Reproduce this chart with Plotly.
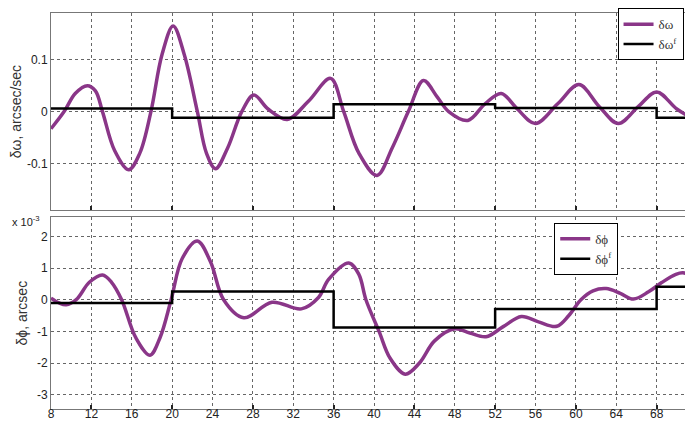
import plotly.graph_objects as go

# top panel: angular rate error, arcsec/sec
omega_t = [8, 9.3, 10.4, 11.6, 12.4, 13.1, 14.3, 15.7, 16.8, 17.9, 19, 20.1, 21.2, 22.5,
           23.4, 24.3, 25.5, 26.9, 28.1, 29.5, 31.4, 33.5, 35.7, 37, 38.5, 40.3, 41.8,
           43.4, 44.9, 46.2, 47.4, 49.3, 51, 52.6, 54.2, 56, 58.2, 60.3, 62.3, 64.2,
           66.2, 68, 70, 72]
omega = [-0.033, 0, 0.035, 0.05, 0.04, 0, -0.075, -0.112, -0.08, 0, 0.11, 0.165, 0.11, 0,
         -0.08, -0.11, -0.07, 0, 0.032, 0.005, -0.015, 0.02, 0.064, 0, -0.08, -0.123, -0.07,
         0, 0.06, 0.03, 0, -0.017, 0.015, 0.035, 0.005, -0.023, 0.015, 0.052, 0.01, -0.023,
         0.01, 0.038, 0.005, -0.018]

# piecewise-constant estimates (step starts, last point closes the step)
step_t = [8, 20, 36, 52, 68, 72]
omega_f = [0.006, -0.012, 0.014, 0.007, -0.012, -0.012]

# bottom panel: angle error, x 1e-3 arcsec
phi_t = [8, 8.8, 9.5, 10.5, 11.8, 13.1, 14, 15, 16.4, 17.8, 18.8, 19.9, 21, 22.5, 23.8,
         25.1, 27.1, 29.9, 32.8, 34.5, 35.5, 37.5, 38.5, 39.2, 40.5, 41.6, 43.1, 44.5,
         46, 48, 49.5, 51.1, 52.8, 54.6, 56.3, 58.1, 59.3, 60.5, 61.7, 63, 64.4, 65.7,
         67.2, 68.5, 69.9, 70.6, 72]
phi = [0.05, -0.1, -0.16, 0, 0.55, 0.78, 0.55, 0, -1.2, -1.75, -1.2, 0, 1.3, 1.85, 1.2,
       0, -0.57, -0.08, -0.29, 0.07, 0.64, 1.16, 0.8, 0, -1.0, -1.85, -2.35, -2.0,
       -1.3, -0.92, -1.05, -1.17, -0.85, -0.53, -0.7, -0.84, -0.5, 0, 0.28, 0.35, 0.2, 0.02,
       0.25, 0.54, 0.8, 0.85, 0.7]
phi_f = [-0.1, 0.26, -0.88, -0.29, 0.41, 0.41]

x_ticks = list(range(8, 72, 4))
top_ticks = [-0.1, 0, 0.1]
top_labels = ["-0.1", "0", "0.1"]
bot_ticks = [-3, -2, -1, 0, 1, 2]
bot_labels = ["-3", "-2", "-1", "0", "1", "2"]

PURPLE = "#8a3688"
TICK_FONT = dict(family="Liberation Sans, Arial", size=12, color="#222")
TITLE_FONT = dict(family="Liberation Sans, Arial", size=14, color="#333")

fig = go.Figure()

fig.add_trace(go.Scatter(x=omega_t, y=omega, mode="lines", name="δω",
                         line=dict(color=PURPLE, width=3.5, shape="spline"),
                         xaxis="x", yaxis="y", legend="legend"))
fig.add_trace(go.Scatter(x=step_t, y=omega_f, mode="lines", name="δω<sup>f</sup>",
                         line=dict(color="black", width=2.5, shape="hv"),
                         xaxis="x", yaxis="y", legend="legend"))
fig.add_trace(go.Scatter(x=phi_t, y=phi, mode="lines", name="δϕ",
                         line=dict(color=PURPLE, width=3.5, shape="spline"),
                         xaxis="x2", yaxis="y2", legend="legend2"))
fig.add_trace(go.Scatter(x=step_t, y=phi_f, mode="lines", name="δϕ<sup>f</sup>",
                         line=dict(color="black", width=2.5, shape="hv"),
                         xaxis="x2", yaxis="y2", legend="legend2"))

frame = dict(
    showline=True, linecolor="#777", linewidth=1, mirror=True,
    showgrid=True, gridcolor="#666", griddash="dot", gridwidth=1,
    zeroline=False, tickfont=TICK_FONT,
)
# small tick marks only every 8 s, grid every 4 s
x_minor = dict(ticks="inside", tick0=12, dtick=8, ticklen=4, tickcolor="#222",
               tickwidth=2, showgrid=False)

legend_style = dict(
    bgcolor="white", bordercolor="black", borderwidth=1,
    font=dict(family="Liberation Serif, Times New Roman", size=13, color="#333"),
    xanchor="left", yanchor="top", tracegroupgap=0,
)

fig.update_layout(
    width=693, height=421,
    margin=dict(l=43, r=4, t=5, b=20, autoexpand=False),
    paper_bgcolor="white", plot_bgcolor="white",
    xaxis=dict(domain=[0, 1], range=[8, 72], tickvals=x_ticks, showticklabels=False,
               ticks="", minor=x_minor, anchor="y", **frame),
    yaxis=dict(domain=[0.502, 1], range=[-0.19, 0.19], tickvals=top_ticks,
               ticktext=top_labels, ticks="", anchor="x",
               title=dict(text="δω, arcsec/sec", standoff=6, font=TITLE_FONT),
               **frame),
    xaxis2=dict(domain=[0, 1], range=[8, 72], tickvals=x_ticks, ticks="",
                ticklabelstandoff=-6, minor=x_minor, anchor="y2", **frame),
    yaxis2=dict(domain=[0, 0.484], range=[-3.45, 2.6], tickvals=bot_ticks,
                ticktext=bot_labels, ticks="", anchor="x2",
                title=dict(text="δϕ, arcsec", standoff=6, font=TITLE_FONT),
                **frame),
    legend=dict(x=0.877, y=1.012, **legend_style),
    legend2=dict(x=0.779, y=0.47, **legend_style),
    showlegend=True,
)

fig.add_annotation(text="x 10<sup>-3</sup>", xref="paper", yref="paper", x=-0.063, y=0.498,
                   xanchor="left", yanchor="top", showarrow=False,
                   font=dict(family="Liberation Sans, Arial", size=11, color="#222"))

fig.write_html("out.html")
